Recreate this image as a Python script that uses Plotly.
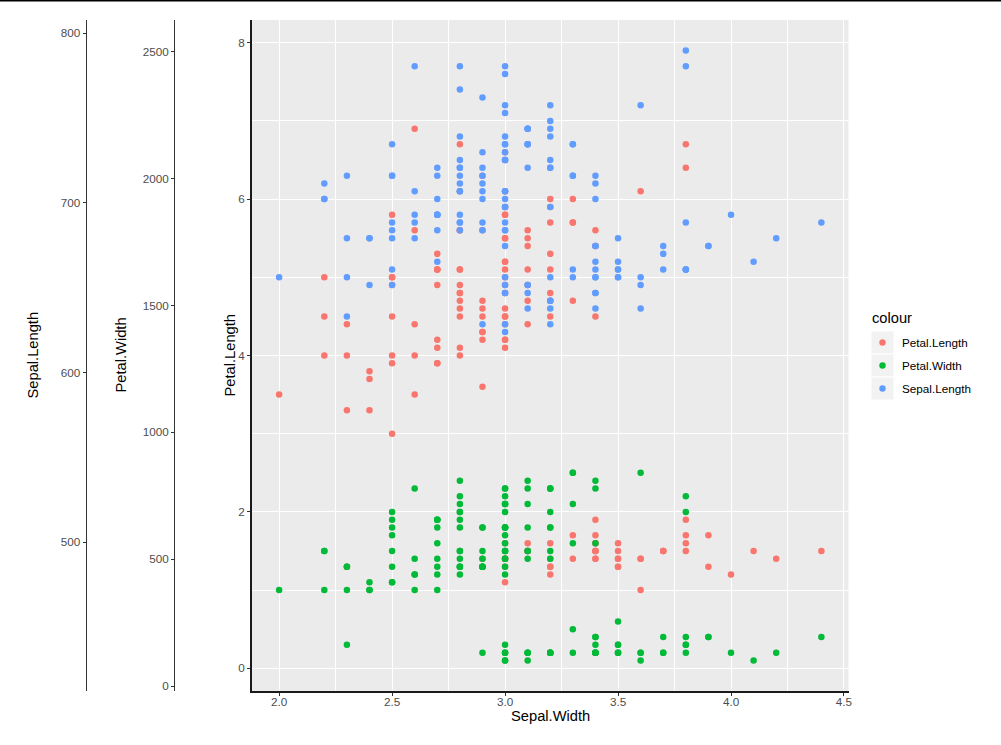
import plotly.graph_objects as go

# iris data
sepal_width = [3.5,3.0,3.2,3.1,3.6,3.9,3.4,3.4,2.9,3.1,3.7,3.4,3.0,3.0,4.0,4.4,3.9,3.5,3.8,3.8,
               3.4,3.7,3.6,3.3,3.4,3.0,3.4,3.5,3.4,3.2,3.1,3.4,4.1,4.2,3.1,3.2,3.5,3.6,3.0,3.4,
               3.5,2.3,3.2,3.5,3.8,3.0,3.8,3.2,3.7,3.3,
               3.2,3.2,3.1,2.3,2.8,2.8,3.3,2.4,2.9,2.7,2.0,3.0,2.2,2.9,2.9,3.1,3.0,2.7,2.2,2.5,
               3.2,2.8,2.5,2.8,2.9,3.0,2.8,3.0,2.9,2.6,2.4,2.4,2.7,2.7,3.0,3.4,3.1,2.3,3.0,2.5,
               2.6,3.0,2.6,2.3,2.7,3.0,2.9,2.9,2.5,2.8,
               3.3,2.7,3.0,2.9,3.0,3.0,2.5,2.9,2.5,3.6,3.2,2.7,3.0,2.5,2.8,3.2,3.0,3.8,2.6,2.2,
               3.2,2.8,2.8,2.7,3.3,3.2,2.8,3.0,2.8,3.0,2.8,3.8,2.8,2.8,2.6,3.0,3.4,3.1,3.0,3.1,
               3.1,3.1,2.7,3.2,3.3,3.0,2.5,3.0,3.4,3.0]
petal_length = [1.4,1.4,1.3,1.5,1.4,1.7,1.4,1.5,1.4,1.5,1.5,1.6,1.4,1.1,1.2,1.5,1.3,1.4,1.7,1.5,
                1.7,1.5,1.0,1.7,1.9,1.6,1.6,1.5,1.4,1.6,1.6,1.5,1.5,1.4,1.5,1.2,1.3,1.4,1.3,1.5,
                1.3,1.3,1.3,1.6,1.9,1.4,1.6,1.4,1.5,1.4,
                4.7,4.5,4.9,4.0,4.6,4.5,4.7,3.3,4.6,3.9,3.5,4.2,4.0,4.7,3.6,4.4,4.5,4.1,4.5,3.9,
                4.8,4.0,4.9,4.7,4.3,4.4,4.8,5.0,4.5,3.5,3.8,3.7,3.9,5.1,4.5,4.5,4.7,4.4,4.1,4.0,
                4.4,4.6,4.0,3.3,4.2,4.2,4.2,4.3,3.0,4.1,
                6.0,5.1,5.9,5.6,5.8,6.6,4.5,6.3,5.8,6.1,5.1,5.3,5.5,5.0,5.1,5.3,5.5,6.7,6.9,5.0,
                5.7,4.9,6.7,4.9,5.7,6.0,4.8,4.9,5.6,5.8,6.1,6.4,5.6,5.1,5.6,6.1,5.6,5.5,4.8,5.4,
                5.6,5.1,5.1,5.9,5.7,5.2,5.0,5.2,5.4,5.1]
petal_width = [0.2,0.2,0.2,0.2,0.2,0.4,0.3,0.2,0.2,0.1,0.2,0.2,0.1,0.1,0.2,0.4,0.4,0.3,0.3,0.3,
               0.2,0.4,0.2,0.5,0.2,0.2,0.4,0.2,0.2,0.2,0.2,0.4,0.1,0.2,0.2,0.2,0.2,0.1,0.2,0.2,
               0.3,0.3,0.2,0.6,0.4,0.3,0.2,0.2,0.2,0.2,
               1.4,1.5,1.5,1.3,1.5,1.3,1.6,1.0,1.3,1.4,1.0,1.5,1.0,1.4,1.3,1.4,1.5,1.0,1.5,1.1,
               1.8,1.3,1.5,1.2,1.3,1.4,1.4,1.7,1.5,1.0,1.1,1.0,1.2,1.6,1.5,1.6,1.5,1.3,1.3,1.3,
               1.2,1.4,1.2,1.0,1.3,1.2,1.3,1.3,1.1,1.3,
               2.5,1.9,2.1,1.8,2.2,2.1,1.7,1.8,1.8,2.5,2.0,1.9,2.1,2.0,2.4,2.3,1.8,2.2,2.3,1.5,
               2.3,2.0,2.0,1.8,2.1,1.8,1.8,1.8,2.1,1.6,1.9,2.0,2.2,1.5,1.4,2.3,2.4,1.8,1.8,2.1,
               2.4,2.3,1.9,2.3,2.5,2.3,1.9,2.0,2.3,1.8]
sepal_length = [5.1,4.9,4.7,4.6,5.0,5.4,4.6,5.0,4.4,4.9,5.4,4.8,4.8,4.3,5.8,5.7,5.4,5.1,5.7,5.1,
                5.4,5.1,4.6,5.1,4.8,5.0,5.0,5.2,5.2,4.7,4.8,5.4,5.2,5.5,4.9,5.0,5.5,4.9,4.4,5.1,
                5.0,4.5,4.4,5.0,5.1,4.8,5.1,4.6,5.3,5.0,
                7.0,6.4,6.9,5.5,6.5,5.7,6.3,4.9,6.6,5.2,5.0,5.9,6.0,6.1,5.6,6.7,5.6,5.8,6.2,5.6,
                5.9,6.1,6.3,6.1,6.4,6.6,6.8,6.7,6.0,5.7,5.5,5.5,5.8,6.0,5.4,6.0,6.7,6.3,5.6,5.5,
                5.5,6.1,5.8,5.0,5.6,5.7,5.7,6.2,5.1,5.7,
                6.3,5.8,7.1,6.3,6.5,7.6,4.9,7.3,6.7,7.2,6.5,6.4,6.8,5.7,5.8,6.4,6.5,7.7,7.7,6.0,
                6.9,5.6,7.7,6.3,6.7,7.2,6.2,6.1,6.4,7.2,7.4,7.9,6.4,6.3,6.1,7.7,6.3,6.4,6.0,6.9,
                6.7,6.9,5.8,6.8,6.7,6.7,6.3,6.5,6.2,5.9]

series_names = ["Petal.Length", "Petal.Width", "Sepal.Length"]
series_colors = ["#F8766D", "#00BA38", "#619CFF"]
series_values = [petal_length, petal_width, sepal_length]

main_yticks = [0, 2, 4, 6, 8]
x_ticks = [2.0, 2.5, 3.0, 3.5, 4.0, 4.5]
pw_axis_ticks = [0, 500, 1000, 1500, 2000, 2500]
sl_axis_ticks = [500, 600, 700, 800]

W, H = 1001, 745
T, B = 20, 691
PH = B - T

def py(p):
    return (B - p) / PH

def px(p):
    return p / W

fig = go.Figure()
for name, col, vals in zip(series_names, series_colors, series_values):
    fig.add_trace(go.Scatter(x=sepal_width, y=vals, mode="markers", name=name,
                             marker=dict(color=col, size=6.5, line=dict(width=0)),
                             showlegend=False, cliponaxis=False))
# dummy traces to make free axes render
fig.add_trace(go.Scatter(x=[None], y=[None], yaxis="y2", showlegend=False))
fig.add_trace(go.Scatter(x=[None], y=[None], yaxis="y3", showlegend=False))

tickfont = dict(family="Liberation Sans, Arial, sans-serif", size=11.7, color="#4D4D4D")

fig.update_layout(
    width=W, height=H,
    margin=dict(l=0, r=0, t=T, b=H - B, pad=0),
    paper_bgcolor="white", plot_bgcolor="#EBEBEB",
    font=dict(family="Liberation Sans, Arial, sans-serif"),
    xaxis=dict(domain=[px(252), px(848.5)], range=[1.88, 4.52],
               tickvals=x_ticks, ticktext=[f"{v:.1f}" for v in x_ticks],
               showgrid=True, gridcolor="white", gridwidth=1.1,
               minor=dict(dtick=0.25, tick0=2.0, showgrid=True, gridcolor="white", gridwidth=0.55, ticks=""),
               zeroline=False, showline=True, linecolor="#1A1A1A", linewidth=1.6,
               ticks="outside", ticklen=3, tickcolor="#333333", tickwidth=1,
               ticklabelstandoff=-4,
               tickfont=tickfont, automargin=False),
    yaxis=dict(range=[-0.29, 8.29], tickvals=main_yticks,
               showgrid=True, gridcolor="white", gridwidth=1.1,
               minor=dict(dtick=1, tick0=0, showgrid=True, gridcolor="white", gridwidth=0.55, ticks=""),
               zeroline=False, showline=True, linecolor="#1A1A1A", linewidth=1.6,
               ticks="outside", ticklen=3, tickcolor="#333333", tickwidth=1,
               tickfont=tickfont, automargin=False),
    yaxis2=dict(overlaying="y", anchor="free", position=px(174), side="left",
                range=[-19.7, 2625], tickvals=pw_axis_ticks,
                showgrid=False, zeroline=False, showline=True, linecolor="#333333", linewidth=1,
                ticks="outside", ticklen=3, tickcolor="#333333", tickwidth=1,
                tickfont=tickfont, automargin=False),
    yaxis3=dict(overlaying="y", anchor="free", position=px(85.5), side="left",
                range=[412.4, 807.8], tickvals=sl_axis_ticks,
                showgrid=False, zeroline=False, showline=True, linecolor="#333333", linewidth=1,
                ticks="outside", ticklen=3, tickcolor="#333333", tickwidth=1,
                tickfont=tickfont, automargin=False),
    showlegend=False,
)

title_font = dict(family="Liberation Sans, Arial, sans-serif", size=14.7, color="black")
annos = [
    dict(text="Sepal.Length", x=px(32), y=py(355.5), textangle=-90),
    dict(text="Petal.Width", x=px(120), y=py(355.5), textangle=-90),
    dict(text="Petal.Length", x=px(229), y=py(355.5), textangle=-90),
    dict(text="Sepal.Width", x=px(550), y=py(716), textangle=0),
]
for a in annos:
    fig.add_annotation(xref="paper", yref="paper", xanchor="center", yanchor="middle",
                       showarrow=False, font=title_font, **a)

# legend (drawn manually)
fig.add_annotation(xref="paper", yref="paper", x=px(870), y=py(318), xanchor="left", yanchor="middle",
                   text="colour", showarrow=False, font=title_font)
row_top = 331
for i, (name, col) in enumerate(zip(series_names, series_colors)):
    t0 = row_top + 23 * i
    fig.add_shape(type="rect", xref="paper", yref="paper",
                  x0=px(871), x1=px(894), y0=py(t0 + 23), y1=py(t0),
                  fillcolor="#F2F2F2", line=dict(color="white", width=1), layer="below")
    cy = t0 + 11.5
    fig.add_shape(type="circle", xref="paper", yref="paper",
                  x0=px(882.5 - 3.2), x1=px(882.5 + 3.2), y0=py(cy + 3.2), y1=py(cy - 3.2),
                  fillcolor=col, line=dict(width=0))
    fig.add_annotation(xref="paper", yref="paper", x=px(900), y=py(cy), xanchor="left", yanchor="middle",
                       text=name, showarrow=False,
                       font=dict(family="Liberation Sans, Arial, sans-serif", size=11.7, color="black"))

# top border line
fig.add_shape(type="line", xref="paper", yref="paper", x0=0, x1=1, y0=py(0.8), y1=py(0.8),
              line=dict(color="black", width=1.6))

fig.write_html("out.html")
